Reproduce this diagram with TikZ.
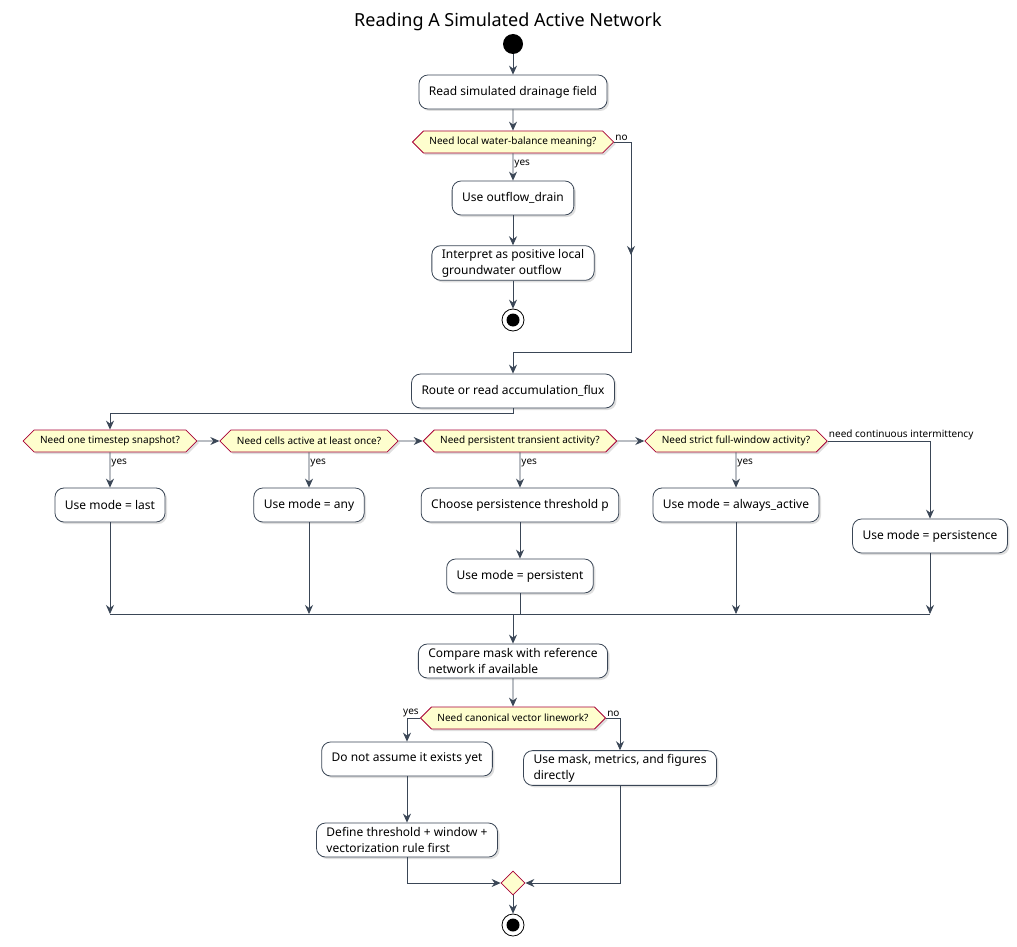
\documentclass[tikz,border=0pt]{standalone}
\usepackage{fontspec}
\setmainfont{Noto Sans}
\usetikzlibrary{arrows.meta,shapes.symbols,shapes.geometric,shadows}
\definecolor{slate}{HTML}{3A4656}
\definecolor{askred}{HTML}{A80036}
\definecolor{askfill}{HTML}{FEFECE}
\begin{document}
\begin{tikzpicture}[x=1pt,y=-1pt]
\tikzset{
    act/.style={draw=slate, fill=white, rounded corners=9pt, line width=.8pt,
        minimum height=34pt, inner xsep=10pt, align=left,
        font=\fontsize{12}{16}\selectfont, drop shadow={opacity=.25,shadow xshift=2pt,shadow yshift=-2pt}},
    ask/.style={signal, signal to=east and west, signal pointer angle=90, draw=askred,
        fill=askfill, line width=.8pt, minimum height=22pt, inner xsep=6pt, inner ysep=2pt,
        font=\fontsize{10}{12}\selectfont, drop shadow={opacity=.25,shadow xshift=2pt,shadow yshift=-2pt}},
    flow/.style={draw=slate, line width=.8pt},
    arr/.style={flow, -{Stealth[length=9pt,width=8pt,inset=3pt]}},
    lbl/.style={font=\fontsize{10}{12}\selectfont, inner sep=1pt},
    start/.style={circle, fill=black, minimum size=20pt, inner sep=0pt},
    stop/.style={circle, draw=black, line width=.8pt, fill=white, minimum size=22pt, inner sep=0pt,
        path picture={\fill[black] (path picture bounding box.center) circle (6.5pt);}}}
\useasboundingbox (0,0) rectangle (1017,947);
\fill[white] (0,0) rectangle (1017,947);

\node[font=\fontsize{18}{20}\selectfont] (title) at (508,22) {Reading A Simulated Active Network};
\node[start] (s0) at (513,44) {};

\node[act] (read) at (513,92) {Read simulated drainage field};
\node[ask] (qwb) at (513,142) {Need local water-balance meaning?};
\node[act] (out) at (513,198) {Use outflow\_drain};
\node[act] (interp) at (513,263) {Interpret as positive local\\groundwater outflow};
\node[stop] (e1) at (513,320) {};
\node[act] (route) at (513,391) {Route or read accumulation\_flux};

% mode selection row
\node[ask] (q1) at (110,441) {Need one timestep snapshot?};
\node[ask] (q2) at (309,441) {Need cells active at least once?};
\node[ask] (q3) at (520,441) {Need persistent transient activity?};
\node[ask] (q4) at (736,441) {Need strict full-window activity?};
\node[act] (mlast) at (110,505) {Use mode = last};
\node[act] (many) at (309,505) {Use mode = any};
\node[act] (thr) at (520,505) {Choose persistence threshold p};
\node[act] (mpers) at (520,576) {Use mode = persistent};
\node[act] (malw) at (736,505) {Use mode = always\_active};
\node[act] (mprs) at (930,536) {Use mode = persistence};

\node[act] (cmp) at (513,661) {Compare mask with reference\\network if available};
\node[ask] (qvec) at (513,718) {Need canonical vector linework?};
\node[act] (dont) at (407,759) {Do not assume it exists yet};
\node[act] (def) at (407,840) {Define threshold + window +\\vectorization rule first};
\node[act] (mask) at (620,768) {Use mask, metrics, and figures\\directly};
\node[diamond, draw=askred, fill=askfill, line width=.8pt, minimum size=24pt, inner sep=0pt] (mrg) at (513,883) {};
\node[stop] (e2) at (513,925) {};

\coordinate (j0) at (513,614);

\draw[arr] (s0) -- (read);
\draw[arr] (read) -- (qwb);
\draw[arr] (qwb) -- node[lbl, right, pos=.4] {yes} (out);
\draw[arr] (out) -- (interp);
\draw[arr] (interp) -- (e1);
\node[lbl, anchor=south west] at (qwb.east) {no};
\draw[flow] (qwb.east) -| (631,352) -- (513,352);
\draw[arr] (631,200) -- (631,255);
\draw[arr] (513,352) -- (route);
\draw[arr] (route.south) -- (513,413) -| (q1.north);

\draw[arr] (q1) -- (q2);
\draw[arr] (q2) -- (q3);
\draw[arr] (q3) -- (q4);
\draw[arr] (q1) -- node[lbl, right, pos=.3] {yes} (mlast);
\draw[arr] (q2) -- node[lbl, right, pos=.3] {yes} (many);
\draw[arr] (q3) -- node[lbl, right, pos=.3] {yes} (thr);
\draw[arr] (q4) -- node[lbl, right, pos=.3] {yes} (malw);
\draw[arr] (thr) -- (mpers);
\node[lbl, anchor=south west] at (q4.east) {need continuous intermittency};
\draw[arr] (q4.east) -| (mprs.north);

\draw[flow] (110,614) -- (930,614);
\draw[arr] (mlast) -- (110,614);
\draw[arr] (many) -- (309,614);
\draw[arr] (malw) -- (736,614);
\draw[arr] (mprs) -- (930,614);
\draw[flow] (mpers) -- (520,614);
\draw[arr] (j0) -- (cmp);
\draw[arr] (cmp) -- (qvec);

\node[lbl, anchor=south east] at (qvec.west) {yes};
\node[lbl, anchor=south west] at (qvec.east) {no};
\draw[arr] (qvec.west) -| (dont.north);
\draw[arr] (qvec.east) -| (mask.north);
\draw[arr] (dont) -- (def);
\draw[arr] (def.south) |- (mrg.west);
\draw[arr] (mask.south) |- (mrg.east);
\draw[arr] (mrg) -- (e2);
\end{tikzpicture}
\end{document}
